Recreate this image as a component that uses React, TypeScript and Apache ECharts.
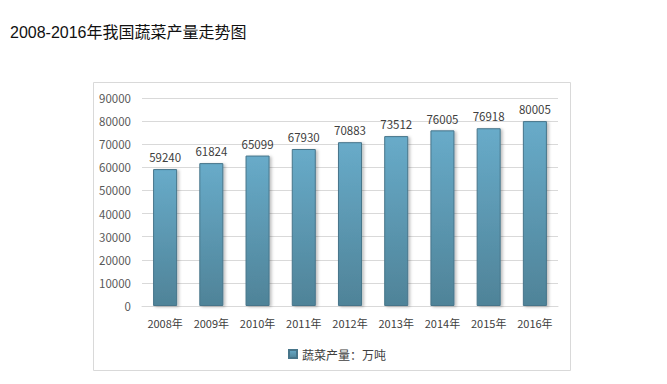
import React, { useEffect, useRef } from "react";
import * as echarts from "echarts";

const titleText = "2008-2016年我国蔬菜产量走势图";
const seriesName = "蔬菜产量：万吨";
const categories = ["2008年", "2009年", "2010年", "2011年", "2012年", "2013年", "2014年", "2015年", "2016年"];
const values = [59240, 61824, 65099, 67930, 70883, 73512, 76005, 76918, 80005];

const FONT = "'Noto Sans CJK SC', 'Noto Sans', sans-serif";

export default function App() {
  const ref = useRef<HTMLDivElement>(null);
  useEffect(() => {
    if (!ref.current) return;
    const chart = echarts.init(ref.current, undefined, { renderer: "svg" });
    chart.setOption({
      animation: false,
      backgroundColor: "#ffffff",
      textStyle: { fontFamily: FONT },
      graphic: [
        {
          type: "rect",
          shape: { x: 93.5, y: 82.5, width: 477, height: 288 },
          style: { fill: "none", stroke: "#d9d9d9", lineWidth: 1 },
          z: -1,
        },
        {
          type: "text",
          left: 10,
          top: 24,
          style: {
            text: titleText,
            fill: "#111111",
            font: "16px 'Liberation Sans', 'Noto Sans CJK SC', sans-serif",
          },
        },
      ],
      legend: {
        data: [seriesName],
        left: 283,
        top: 343,
        itemWidth: 8,
        itemHeight: 8,
        itemGap: 3,
        icon: "rect",
        textStyle: { color: "#404040", fontSize: 12, fontFamily: FONT },
      },
      grid: { left: 142, top: 98, width: 416, height: 208, containLabel: false },
      xAxis: {
        type: "category",
        data: categories,
        axisLine: { lineStyle: { color: "#d9d9d9" } },
        axisTick: { show: false },
        axisLabel: { color: "#404040", fontSize: 11, margin: 11, interval: 0, fontFamily: FONT },
      },
      yAxis: {
        type: "value",
        min: 0,
        max: 90000,
        interval: 10000,
        axisLine: { show: false },
        axisTick: { show: false },
        splitLine: { lineStyle: { color: "#d9d9d9" } },
        axisLabel: {
          color: "#595959",
          fontSize: 11.5,
          margin: 11,
          fontFamily: FONT,
          formatter: (v: number) => String(v),
        },
      },
      series: [
        {
          name: seriesName,
          type: "bar",
          data: values,
          barWidth: "52%",
          itemStyle: {
            color: new echarts.graphic.LinearGradient(0, 0, 0, 1, [
              { offset: 0, color: "#68abc9" },
              { offset: 1, color: "#4f8398" },
            ]),
            borderColor: "#47758a",
            borderWidth: 1,
            shadowColor: "rgba(0,0,0,0.25)",
            shadowBlur: 3,
            shadowOffsetX: 2,
            shadowOffsetY: 1,
          },
          label: {
            show: true,
            position: "top",
            distance: 6,
            color: "#404040",
            fontSize: 11.5,
            fontFamily: FONT,
          },
        },
      ],
    });
    return () => chart.dispose();
  }, []);
  return (
    <div
      ref={ref}
      style={{ position: "fixed", left: 0, top: 0, width: 667, height: 384 }}
    />
  );
}
